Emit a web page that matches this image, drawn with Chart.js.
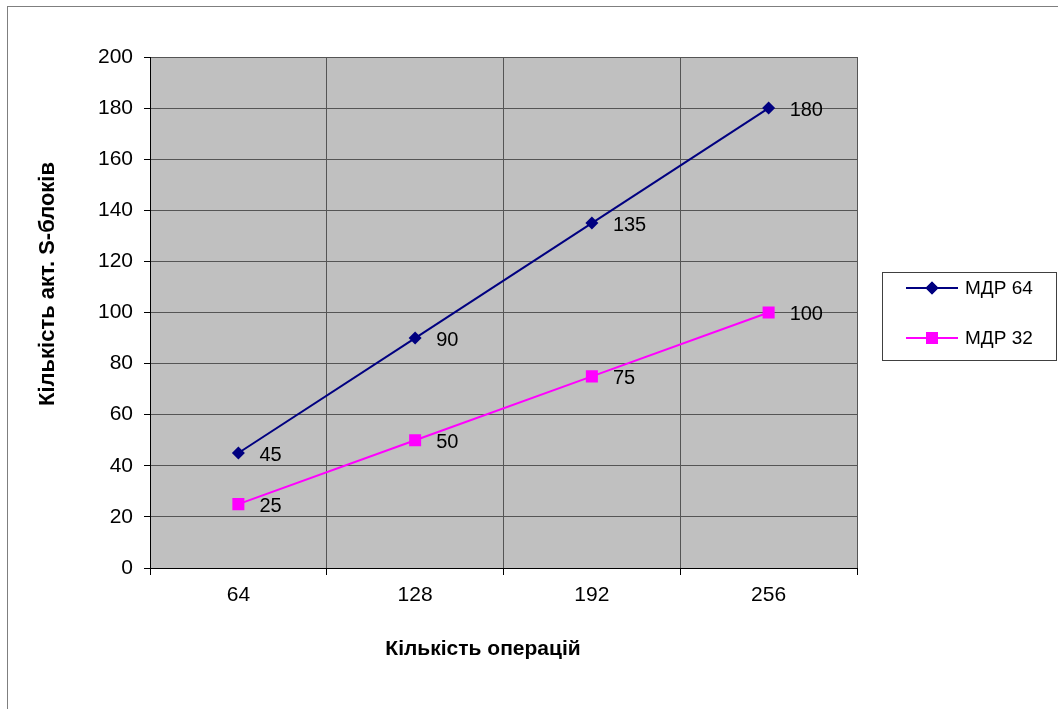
<!DOCTYPE html>
<html>
<head>
<meta charset="utf-8">
<script src="https://cdn.jsdelivr.net/npm/chart.js@4.4.0/dist/chart.umd.min.js"></script>
<style>
  body { margin: 0; background: #fff; }
  #wrap { width: 1058px; height: 709px; }
</style>
</head>
<body>
<div id="wrap"><canvas id="chart" width="1058" height="709"></canvas></div>
<script>
// chart data
const categories = ["64", "128", "192", "256"];
const mdr64 = [45, 90, 135, 180];
const mdr32 = [25, 50, 75, 100];
const seriesNames = ["МДР 64", "МДР 32"];
const xTitle = "Кількість операцій";
const yTitle = "Кількість акт. S-блоків";

const FONT = "'Liberation Sans', Arial, sans-serif";

// grey plot area with thin grey frame, plus the outer chart border
const backgroundPlugin = {
  id: "plotBackground",
  beforeDraw(chart) {
    const { ctx, chartArea: a } = chart;
    ctx.save();
    ctx.strokeStyle = "#7f7f7f";
    ctx.lineWidth = 1;
    ctx.strokeRect(7.5, 6.5, 1200, 900);
    ctx.fillStyle = "#c0c0c0";
    ctx.fillRect(a.left, a.top, a.right - a.left, a.bottom - a.top);
    ctx.strokeStyle = "#808080";
    ctx.strokeRect(a.left + 0.5, a.top + 0.5, a.right - a.left, a.bottom - a.top);
    ctx.restore();
  },
};

// value labels next to each point
const valueLabels = {
  id: "valueLabels",
  afterDatasetsDraw(chart) {
    const { ctx } = chart;
    ctx.save();
    ctx.font = "20px " + FONT;
    ctx.fillStyle = "#000";
    ctx.textAlign = "left";
    ctx.textBaseline = "middle";
    chart.data.datasets.forEach((ds, i) => {
      chart.getDatasetMeta(i).data.forEach((pt, j) => {
        ctx.fillText(ds.data[j], pt.x + 21, pt.y + 2);
      });
    });
    ctx.restore();
  },
};

// axis titles, placed like the original (not centred on plot)
const axisTitles = {
  id: "axisTitles",
  afterDraw(chart) {
    const { ctx } = chart;
    ctx.save();
    ctx.fillStyle = "#000";
    ctx.textAlign = "center";
    ctx.textBaseline = "middle";
    ctx.font = "bold 21px " + FONT;
    ctx.fillText(xTitle, 483, 649);
    ctx.font = "bold 22px " + FONT;
    ctx.translate(48, 284);
    ctx.rotate(-Math.PI / 2);
    ctx.fillText(yTitle, 0, 0);
    ctx.restore();
  },
};

// boxed legend on the right
const boxLegend = {
  id: "boxLegend",
  afterDraw(chart) {
    const { ctx } = chart;
    ctx.save();
    ctx.strokeStyle = "#404040";
    ctx.lineWidth = 1;
    ctx.strokeRect(882.5, 272.5, 174, 88);
    ctx.font = "19px " + FONT;
    ctx.textBaseline = "middle";
    chart.data.datasets.forEach((ds, i) => {
      const y = 288 + i * 50;
      ctx.strokeStyle = ds.borderColor;
      ctx.lineWidth = 2;
      ctx.beginPath();
      ctx.moveTo(906, y);
      ctx.lineTo(958, y);
      ctx.stroke();
      ctx.fillStyle = ds.pointBackgroundColor;
      Chart.helpers.drawPoint(ctx, {
        pointStyle: ds.pointStyle,
        radius: ds.pointRadius,
        rotation: 0,
        borderWidth: 0,
      }, 932, y);
      ctx.fill();
      ctx.fillStyle = "#000";
      ctx.fillText(ds.label, 965, y + 1);
    });
    ctx.restore();
  },
};

new Chart(document.getElementById("chart"), {
  type: "line",
  data: {
    labels: categories,
    datasets: [
      {
        label: seriesNames[0],
        data: mdr64,
        borderColor: "#000080",
        backgroundColor: "#000080",
        pointBackgroundColor: "#000080",
        pointBorderWidth: 0,
        pointStyle: "rectRot",
        pointRadius: 6.5,
        borderWidth: 2,
        tension: 0,
      },
      {
        label: seriesNames[1],
        data: mdr32,
        borderColor: "#ff00ff",
        backgroundColor: "#ff00ff",
        pointBackgroundColor: "#ff00ff",
        pointBorderWidth: 0,
        pointStyle: "rect",
        pointRadius: 8.5,
        borderWidth: 2,
        tension: 0,
      },
    ],
  },
  options: {
    responsive: false,
    animation: false,
    layout: { padding: { top: 57, right: 201, left: 0, bottom: 0 } },
    plugins: {
      legend: { display: false },
      tooltip: { enabled: false },
    },
    scales: {
      x: {
        offset: true,
        afterFit: (s) => { s.height = 141; },
        grid: {
          offset: true,
          color: "#555",
          tickColor: "#000",
          tickLength: 7,
        },
        border: { color: "#000", width: 1 },
        ticks: { color: "#000", font: { size: 21, family: FONT }, padding: 8 },
      },
      y: {
        min: 0,
        max: 200,
        afterFit: (s) => { s.width = 150; },
        grid: {
          color: "#555",
          tickColor: "#000",
          tickLength: 6,
        },
        border: { color: "#000", width: 1 },
        ticks: { stepSize: 20, color: "#000", font: { size: 21, family: FONT }, padding: 11 },
      },
    },
  },
  plugins: [backgroundPlugin, valueLabels, axisTitles, boxLegend],
});
</script>
</body>
</html>
